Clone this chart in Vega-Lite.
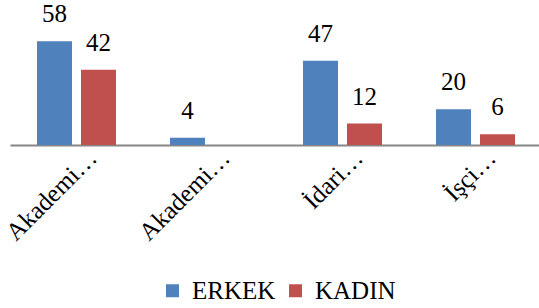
{
  "$schema": "https://vega.github.io/schema/vega-lite/v6.json",
  "width": 532,
  "height": 145,
  "autosize": {"type": "none"},
  "padding": {"left": 10, "top": 0, "right": 0, "bottom": 163},
  "background": "white",
  "config": {"view": {"stroke": null}},
  "data": {
    "values": [
      {"kategori": "Akademik Personel", "cinsiyet": "ERKEK", "sayi": 58},
      {"kategori": "Akademik Personel", "cinsiyet": "KADIN", "sayi": 42},
      {"kategori": "Akademik Personel (Yabancı)", "cinsiyet": "ERKEK", "sayi": 4},
      {"kategori": "İdari Personel", "cinsiyet": "ERKEK", "sayi": 47},
      {"kategori": "İdari Personel", "cinsiyet": "KADIN", "sayi": 12},
      {"kategori": "İşçi Personel", "cinsiyet": "ERKEK", "sayi": 20},
      {"kategori": "İşçi Personel", "cinsiyet": "KADIN", "sayi": 6}
    ]
  },
  "encoding": {
    "x": {
      "field": "kategori",
      "type": "nominal",
      "sort": null,
      "scale": {"paddingInner": 0.406, "paddingOuter": 0.203},
      "axis": {
        "title": null,
        "ticks": false,
        "domainColor": "#868686",
        "domainWidth": 2,
        "labelAngle": -45,
        "labelAlign": "right",
        "labelBaseline": "alphabetic",
        "labelFont": "Liberation Serif",
        "labelFontSize": 25,
        "labelColor": "#000000",
        "labelPadding": 14,
        "labelOffset": 22,
        "labelLimit": 300,
        "labelExpr": "indexof(datum.label,'Akademi')==0 ? 'Akademi…' : split(datum.label,' ')[0] + '…'"
      }
    },
    "xOffset": {
      "field": "cinsiyet",
      "type": "nominal",
      "scale": {"domain": ["ERKEK", "KADIN"], "paddingInner": 0.2045, "paddingOuter": 0}
    },
    "y": {
      "field": "sayi",
      "type": "quantitative",
      "scale": {"domain": [0, 81]},
      "axis": null
    }
  },
  "layer": [
    {
      "mark": {"type": "bar"},
      "encoding": {
        "color": {
          "field": "cinsiyet",
          "type": "nominal",
          "scale": {"domain": ["ERKEK", "KADIN"], "range": ["#4F81BD", "#C0504D"]},
          "legend": {
            "title": null,
            "orient": "none",
            "direction": "horizontal",
            "legendX": 150,
            "legendY": 278,
            "symbolType": "square",
            "symbolSize": 169,
            "symbolStrokeWidth": 0,
            "labelFont": "Liberation Serif",
            "labelFontSize": 25,
            "labelColor": "#000000",
            "labelOffset": 7,
            "columnPadding": 7,
            "padding": 0
          }
        }
      }
    },
    {
      "mark": {"type": "text", "baseline": "bottom", "dy": -14, "fontSize": 25, "font": "Liberation Serif", "color": "#000000"},
      "encoding": {"text": {"field": "sayi", "type": "quantitative"}}
    }
  ]
}
